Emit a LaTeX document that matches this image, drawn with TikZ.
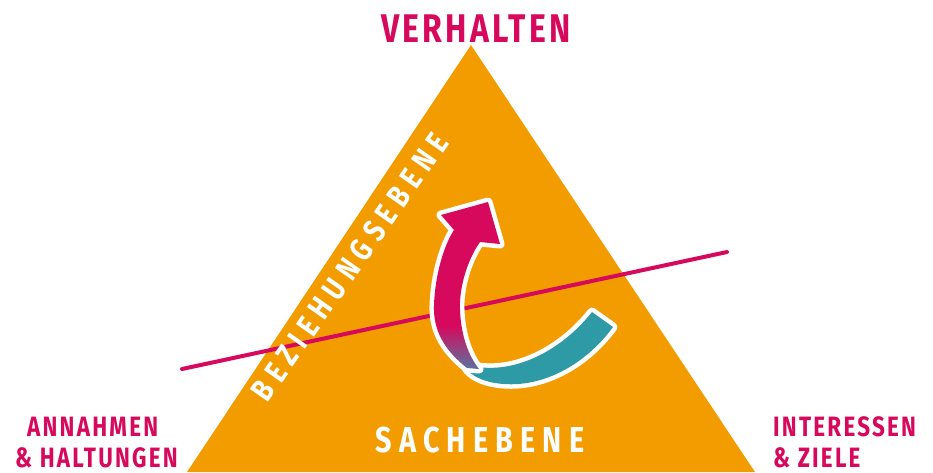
\documentclass[tikz,border=0pt]{standalone}
\usepackage{fontspec}
\usetikzlibrary{calc}
\newfontfamily\handfont[FakeStretch=0.8]{Fira Sans}
\newcommand\handtext[2]{\handfont\bfseries\addfontfeatures{LetterSpace=#2}\fontsize{#1}{#1}\selectfont}
\definecolor{pinkc}{HTML}{D6095D}
\definecolor{orangec}{HTML}{F39C00}
\definecolor{tealc}{HTML}{2E9AA5}
\definecolor{slatec}{HTML}{5B73A0}
\pgfdeclareverticalshading{ribbonfade}{100bp}{color(0bp)=(slatec); color(25bp)=(slatec); color(38bp)=(pinkc); color(100bp)=(pinkc)}
\tikzset{
  cornertext/.style={text=pinkc, inner sep=0pt},
  leveltext/.style={text=white, inner sep=0pt},
  outline/.style={preaction={draw=white, line width=9pt, line join=round}},
}

\begin{document}
\begin{tikzpicture}[x=1pt, y=-1pt]
			%%%%% START %%%%%
			\useasboundingbox (0,0) rectangle (933,472);
			
			% triangle
			\coordinate (top) at (471,45);
			\coordinate (left) at (187,472);
			\coordinate (right) at (755,472);
			\fill[orangec] (top) -- (left) -- (right) -- cycle;
			
			% dividing line
			\coordinate (cutA) at (182,369);
			\coordinate (cutB) at (727,252);
			\draw[pinkc, line width=4pt, line cap=round] (cutA) -- (cutB);
			
			% corner labels
			\node[cornertext, anchor=base] (verhalten) at (476,42) {\handtext{40}{8}VERHALTEN};
			\node[cornertext, anchor=base west] (annahmen) at (27,436) {\handtext{28}{8}ANNAHMEN};
			\node[cornertext, anchor=base west] (haltungen) at (15,467) {\handtext{28}{8}\&~HALTUNGEN};
			\node[cornertext, anchor=base west] (interessen) at (773,436) {\handtext{28}{8}INTERESSEN};
			\node[cornertext, anchor=base west] (ziele) at (773,467) {\handtext{28}{8}\&~ZIELE};
			
			% levels
			\node[leveltext, anchor=base] (sache) at (480,452) {\handtext{36}{20}SACHEBENE};
			\node[leveltext, anchor=base, rotate=55] (beziehung) at (359,273) {\handtext{32}{22}BEZIEHUNGSEBENE};
			
			% ribbon arrow
			\fill[outline, tealc] (472,366) .. controls (515,375) and (562,350) .. (592,312)
			  -- (613,327) .. controls (583,368) and (535,392) .. (490,382)
			  .. controls (478,379) and (470,374) .. (466,368) -- cycle;
			\shade[outline, shading=ribbonfade] (454,230) -- (441,215) -- (488,202) -- (500,244) -- (480,242)
			  .. controls (466,262) and (459,290) .. (460,310)
			  .. controls (461,335) and (468,355) .. (479,369)
			  -- (467,368) .. controls (444,350) and (433,330) .. (434,305)
			  .. controls (435,275) and (444,245) .. (454,230) -- cycle;
			
			%%%%% END %%%%%
\end{tikzpicture}
\end{document}
